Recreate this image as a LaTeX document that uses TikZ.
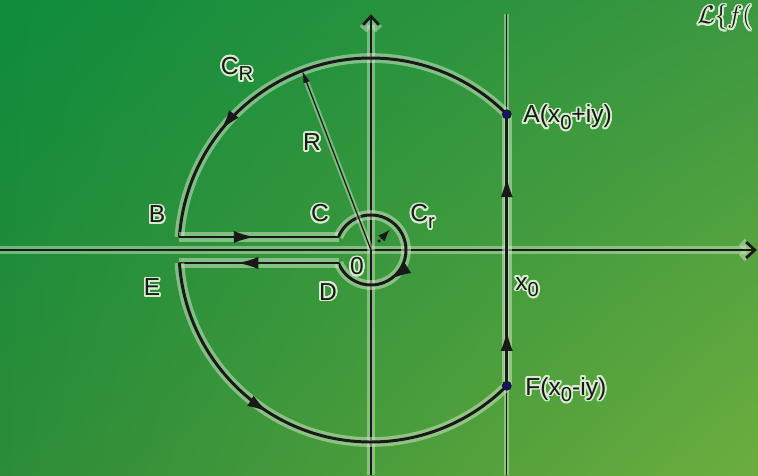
\documentclass[tikz,border=0pt]{standalone}
\usepackage{fontspec}
\setmainfont{Liberation Sans}
\usepackage[copies]{contour}
\usetikzlibrary{arrows.meta,decorations.markings,shadings}
\contourlength{1pt}
\contournumber{24}
\definecolor{bgul}{RGB}{14,140,60}
\definecolor{bgur}{RGB}{60,152,64}
\definecolor{bgll}{RGB}{44,140,56}
\definecolor{bglr}{RGB}{108,174,62}
\definecolor{ink}{RGB}{25,25,25}
\definecolor{halo}{RGB}{215,235,205}
\definecolor{navy}{RGB}{20,20,110}
\newcommand{\low}[1]{\raisebox{-0.5ex}{\fontsize{11.5}{12}\selectfont #1}}
\tikzset{
  axis/.style={draw=ink,line width=1.6pt,preaction={draw=halo,line width=5pt,opacity=.45},
    -{Straight Barb[length=5pt,width=9pt]}},
  thinline/.style={draw=ink,line width=0.7pt,preaction={draw=halo,line width=3pt,opacity=.45}},
  contourline/.style={draw=ink,line width=1.7pt,preaction={draw=halo,line width=5.5pt,opacity=.5}},
  midarrow/.style={postaction={decorate,decoration={markings,
    mark=at position #1 with {\arrow[ink]{Latex[length=12pt,width=7pt]}}}}},
  lab/.style={inner sep=0pt,text=ink,font=\fontsize{14}{16}\selectfont},
  pt/.style={circle,fill=navy,draw=ink,line width=0.6pt,inner sep=0pt,minimum size=5pt}
}
\begin{document}
\begin{tikzpicture}[x=1cm,y=1cm]
\useasboundingbox (-7.42,-4.5) rectangle (7.74,5.0);
\shade[upper left=bgul,upper right=bgur,lower left=bgll,lower right=bglr]
  (-7.42,-4.5) rectangle (7.74,5.0);
% axes and the line Re s = x0
\draw[axis] (-7.42,0)--(7.72,0);
\draw[axis] (0,-4.5)--(0,4.72);
\draw[thinline] (2.715,-4.5)--(2.715,4.72);
% contour
\draw[contourline,midarrow=0.206,midarrow=0.772] (2.715,-2.715)--(2.715,2.715);
\draw[contourline,midarrow=0.736] (2.715,2.715) arc[start angle=45,end angle=176.12,radius=3.84];
\draw[contourline,midarrow=0.475] (-3.831,0.26)--(-0.65,0.26);
\draw[contourline,midarrow=0.68] (-0.65,0.26) arc[start angle=158.2,end angle=-158.2,radius=0.7];
\draw[contourline,midarrow=0.637] (-0.65,-0.26)--(-3.831,-0.26);
\draw[contourline,midarrow=0.41] (-3.831,-0.26) arc[start angle=183.88,end angle=315,radius=3.84];
% radii
\draw[thinline,-{Latex[length=7pt,width=4pt]}] (0,0)--(-1.376,3.585);
\fill[ink] (0.16,0.18) circle (0.035);
\draw[ink,line width=0.6pt,-{Latex[length=7pt,width=5pt]}] (0.2,0.22)--(0.38,0.41);
% points
\node[pt] (ptA) at (2.715,2.715) {};
\node[pt] (ptF) at (2.715,-2.715) {};
% labels
\node[lab] (labCR) at (-2.68,3.6) {\contour{halo}{C\low{R}}};
\node[lab] (labR) at (-1.18,2.14) {\contour{halo}{R}};
\node[lab,anchor=base west] (labA) at (3.04,2.54) {\contour{halo}{A(x\low{0}+iy)}};
\node[lab,anchor=base west] (labF) at (3.08,-2.9) {\contour{halo}{F(x\low{0}-iy)}};
\node[lab,anchor=base west] (labx) at (2.88,-0.8) {\contour{halo}{x\low{0}}};
\node[lab,anchor=base] (labB) at (-4.28,0.54) {\contour{halo}{B}};
\node[lab,anchor=base] (labE) at (-4.38,-0.92) {\contour{halo}{E}};
\node[lab,anchor=base] (labC) at (-1.02,0.56) {\contour{halo}{C}};
\node[lab,anchor=base west] (labCr) at (0.78,0.56) {\contour{halo}{C\low{r}}};
\node[lab,anchor=base] (lab0) at (-0.28,-0.5) {\contour{halo}{0}};
\node[lab,anchor=base] (labD) at (-0.86,-1.0) {\contour{halo}{D}};
\node[lab,anchor=base west] (labL) at (6.52,4.52) {\contour{halo}{$\mathcal{L}\{f($}};
\end{tikzpicture}
\end{document}
